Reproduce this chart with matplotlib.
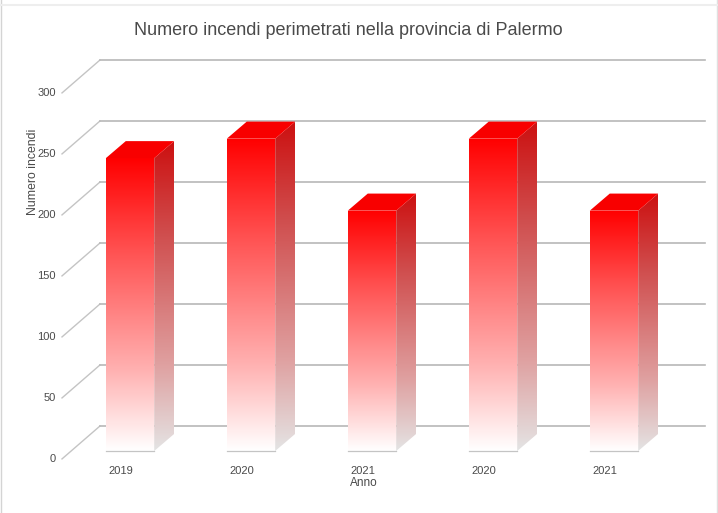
#!/usr/bin/env python3
"""Pseudo-3D bar chart: fires mapped in the province of Palermo."""

import matplotlib
matplotlib.use("Agg")
import matplotlib.pyplot as plt
import numpy as np
from matplotlib.colors import LinearSegmentedColormap
from matplotlib.patches import Polygon

YEARS = ["2019", "2020", "2021", "2020", "2021"]
FIRES = [240, 256, 197, 256, 197]
Y_TICKS = [0, 50, 100, 150, 200, 250, 300]

TITLE = "Numero incendi perimetrati nella provincia di Palermo"
Y_LABEL = "Numero incendi"
X_LABEL = "Anno"

# one category is 121 px wide, one y unit is 1.22 px
BAR_W = 0.4
DEPTH_X = 0.165
DEPTH_Y = 14.0
WALL_X = -0.248
WALL_Y = 20.5
WALL_END = 4.752
TICK_X = -0.562
TICK_Y = -6.5
TEXT_COLOR = "#4a4a4a"
GRID_COLOR = "#b8b8b8"
SLANT_COLOR = "#c4c4c4"

front_cmap = LinearSegmentedColormap.from_list(
    "front", [(0, "#ffffff"), (0.28, "#ffb0b0"), (0.69, "#ff5050"), (1, "#ff0000")]
)
side_cmap = LinearSegmentedColormap.from_list(
    "side", [(0, "#e4e4e4"), (0.28, "#dfa0a0"), (0.69, "#d05050"), (1, "#cc1010")]
)
gradient = np.linspace(1, 0, 256).reshape(-1, 1)

plt.rcParams["font.family"] = ["Liberation Sans", "DejaVu Sans"]

fig = plt.figure(figsize=(7.18, 5.13), dpi=100, facecolor="white")
ax = fig.add_axes([0, 0, 1, 1])
ax.set_xlim(-130 / 121, 588 / 121)
ax.set_ylim(-62 / 1.22, 451 / 1.22)
ax.axis("off")

# back wall lines and the slanted lines down to the y labels
for tick in Y_TICKS:
    ax.plot([TICK_X, WALL_X], [tick + TICK_Y, tick + WALL_Y], color=SLANT_COLOR, lw=1.0, zorder=1)
    ax.plot([WALL_X, WALL_END], [tick + WALL_Y, tick + WALL_Y], color=GRID_COLOR, lw=1.2, zorder=1)
    ax.text(TICK_X - 0.05, tick + TICK_Y, str(tick), ha="right", va="center",
            fontsize=8, color=TEXT_COLOR)

for i, (year, value) in enumerate(zip(YEARS, FIRES)):
    x0 = i - BAR_W / 2
    x1 = i + BAR_W / 2

    # front face
    front = ax.imshow(gradient, cmap=front_cmap, vmin=0, vmax=1, aspect="auto",
                      extent=(x0, x1, 0, value), zorder=3)
    front.set_clip_path(Polygon([(x0, 0), (x1, 0), (x1, value), (x0, value)],
                                transform=ax.transData))

    # side face
    side = ax.imshow(gradient, cmap=side_cmap, vmin=0, vmax=1, aspect="auto",
                     extent=(x1, x1 + DEPTH_X, 0, value + DEPTH_Y), zorder=3)
    side.set_clip_path(Polygon([(x1, 0), (x1 + DEPTH_X, DEPTH_Y),
                                (x1 + DEPTH_X, value + DEPTH_Y), (x1, value)],
                               transform=ax.transData))

    # top face
    ax.add_patch(Polygon([(x0, value), (x1, value), (x1 + DEPTH_X, value + DEPTH_Y),
                          (x0 + DEPTH_X, value + DEPTH_Y)],
                         facecolor="#f80000", edgecolor="none", zorder=4))

    ax.plot([x0, x1], [0, 0], color="#c4c4c4", lw=0.9, zorder=4)

    ax.text(x0 + 0.025, -16.5, year, ha="left", va="center", fontsize=8, color=TEXT_COLOR)

ax.text(2 - BAR_W / 2 + 0.02, -26, X_LABEL, ha="left", va="center", fontsize=8.5,
        color=TEXT_COLOR)
ax.text(-0.80, 229, Y_LABEL, rotation=90, ha="center", va="center", fontsize=8.8,
        color=TEXT_COLOR)
ax.text(0.485, 0.941, TITLE, transform=ax.transAxes, ha="center", va="center",
        fontsize=13, color=TEXT_COLOR)

# thin frame of the original chart area
ax.plot([0.002, 0.002], [0, 1], transform=ax.transAxes, color="#d4d4d4", lw=1.0)
ax.plot([0.998, 0.998], [0, 1], transform=ax.transAxes, color="#e0e0e0", lw=1.0)
ax.plot([0, 1], [0.99, 0.99], transform=ax.transAxes, color="#eeeeee", lw=1.5)

ax.set_xlim(-130 / 121, 588 / 121)
ax.set_ylim(-62 / 1.22, 451 / 1.22)
fig.savefig("out.png", dpi=100)
plt.close(fig)
